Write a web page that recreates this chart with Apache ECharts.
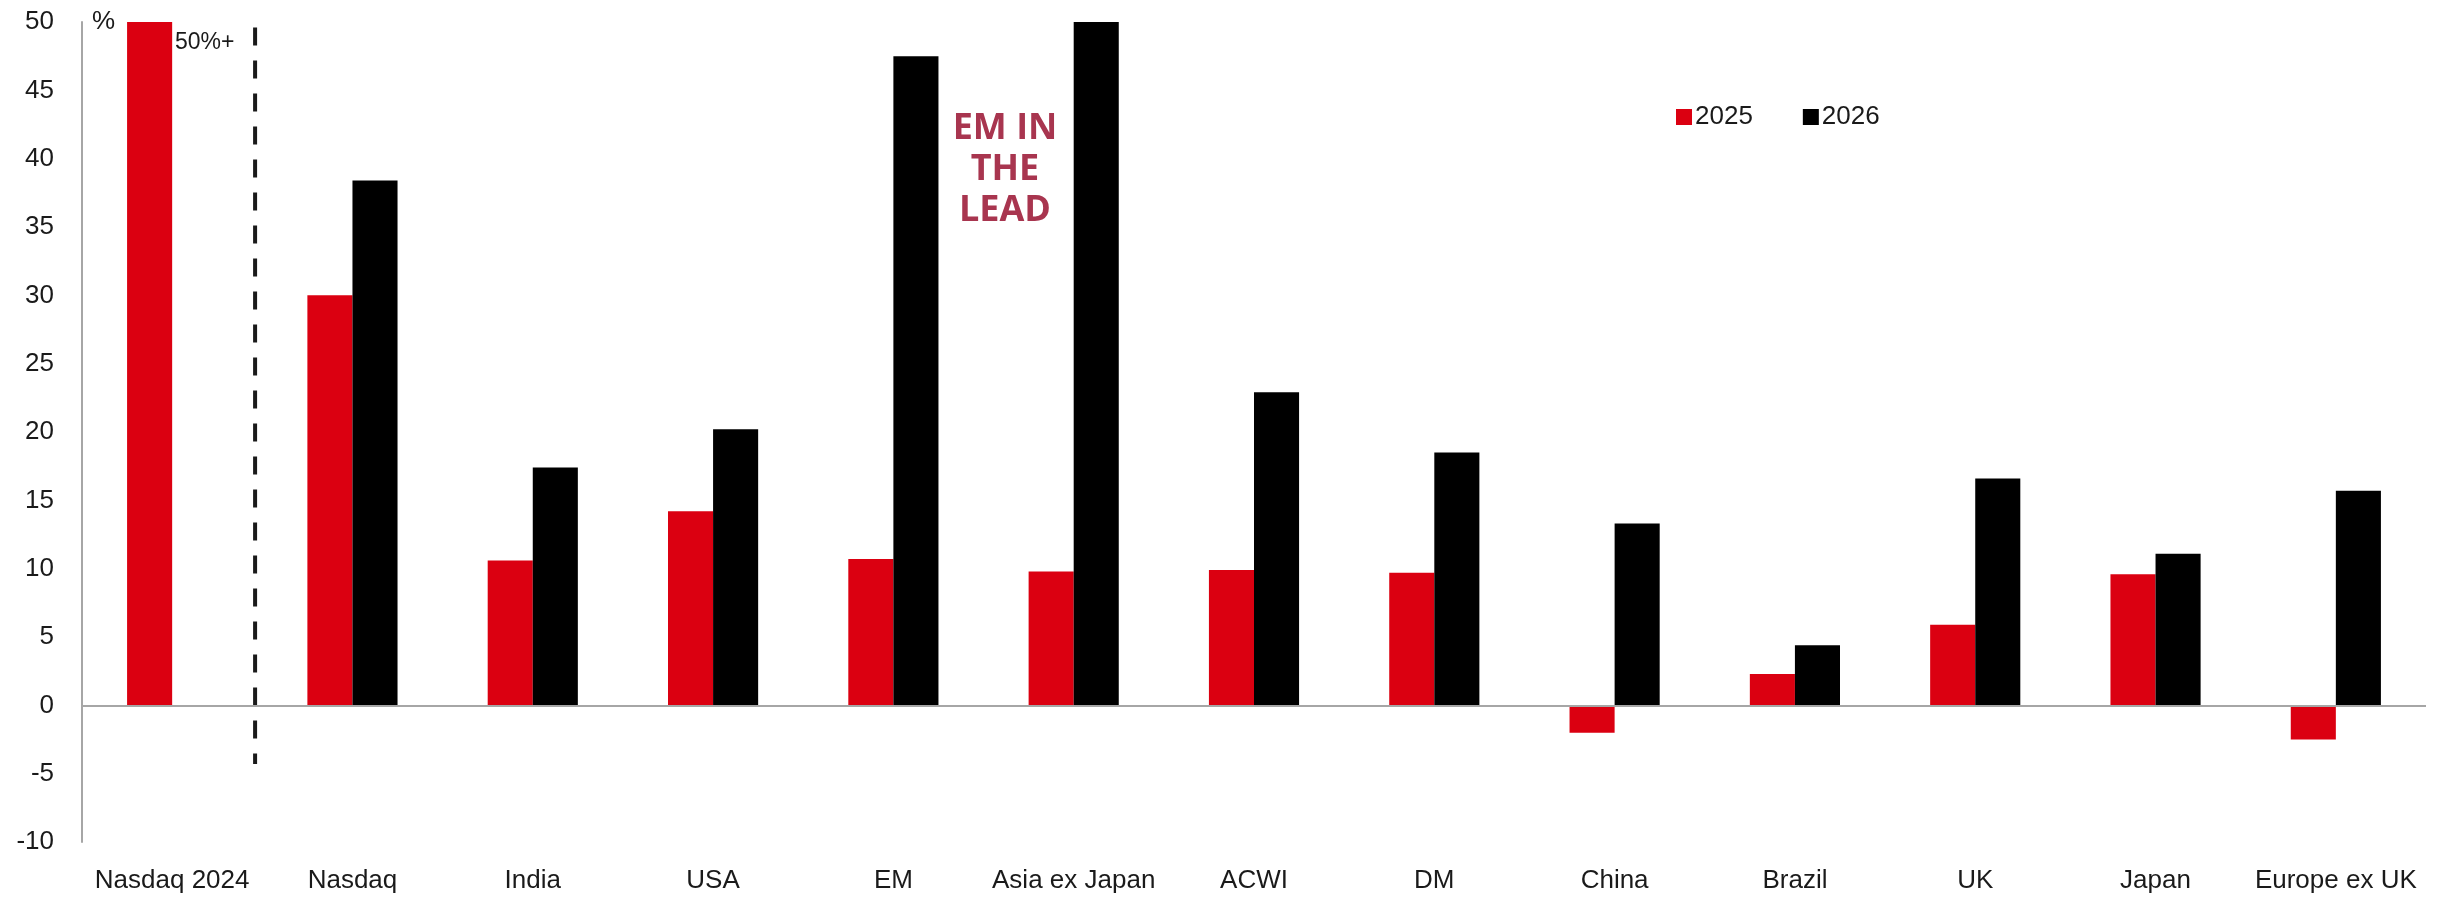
<!DOCTYPE html>
<html>
<head>
<meta charset="utf-8">
<script src="https://cdn.jsdelivr.net/npm/echarts@6/dist/echarts.min.js"></script>
<style>
html,body{margin:0;padding:0;background:#fff;}
#chart{width:2443px;height:897px;}
</style>
</head>
<body>
<div id="chart"></div>
<script>
const categories = ['Nasdaq 2024','Nasdaq','India','USA','EM','Asia ex Japan','ACWI','DM','China','Brazil','UK','Japan','Europe ex UK'];
const values2025 = [50, 30.0, 10.6, 14.2, 10.7, 9.8, 9.9, 9.7, -2.0, 2.3, 5.9, 9.6, -2.5];
const values2026 = [null, 38.4, 17.4, 20.2, 47.5, 50.0, 22.9, 18.5, 13.3, 4.4, 16.6, 11.1, 15.7];
const yTicks = { min: -10, max: 50, interval: 5 };

const FONT = '"Liberation Sans", Arial, sans-serif';
const TXT = '#1a1a1a';

const chart = echarts.init(document.getElementById('chart'));
const option = {
  animation: false,
  backgroundColor: '#ffffff',
  grid: { left: 82, right: 17, top: 22, bottom: 55, containLabel: false },
  legend: {
    left: 1671, top: 99,
    itemWidth: 16, itemHeight: 16, itemGap: 50,
    icon: 'rect',
    textStyle: { fontFamily: FONT, fontSize: 26, color: TXT, padding: [0,0,0,-2] },
    data: ['2025','2026']
  },
  xAxis: {
    type: 'category',
    data: categories,
    axisLine: { show: false, onZero: false },
    axisTick: { show: false },
    axisLabel: { fontFamily: FONT, fontSize: 26, color: TXT, margin: 26, interval: 0 }
  },
  yAxis: {
    type: 'value',
    min: yTicks.min, max: yTicks.max, interval: yTicks.interval,
    splitLine: { show: false },
    axisLine: { show: true, lineStyle: { color: '#a6a6a6', width: 2 } },
    axisTick: { show: false },
    axisLabel: { fontFamily: FONT, fontSize: 26, color: TXT, margin: 28 }
  },
  series: [
    {
      name: '2025', type: 'bar', data: values2025,
      itemStyle: { color: '#DB0011' },
      barWidth: '25%', barGap: '0%',
      markLine: {
        silent: true, symbol: 'none',
        lineStyle: { color: '#a6a6a6', width: 2, type: 'solid' },
        label: { show: false },
        data: [{ yAxis: 0 }]
      }
    },
    {
      name: '2026', type: 'bar', data: values2026,
      itemStyle: { color: '#000000' },
      barWidth: '25%', barGap: '0%'
    }
  ]
};
chart.setOption(option);

// annotations
const dashTop = chart.convertToPixel({ yAxisIndex: 0 }, 49.6);
const dashBot = chart.convertToPixel({ yAxisIndex: 0 }, -4.3);
const c0 = chart.convertToPixel({ xAxisIndex: 0 }, categories[0]);
const c1 = chart.convertToPixel({ xAxisIndex: 0 }, categories[1]);
const dashX = c0 + (c1 - c0) * 0.46;
const y50 = chart.convertToPixel({ yAxisIndex: 0 }, 50);

chart.setOption({
  graphic: [
    {
      type: 'line', silent: true,
      shape: { x1: dashX, y1: dashTop, x2: dashX, y2: dashBot },
      style: { stroke: '#1a1a1a', lineWidth: 4, lineDash: [18, 15] }
    },
    {
      type: 'text', left: 92, top: 9,
      style: { text: '%', fontFamily: FONT, fontSize: 26, fill: TXT }
    },
    {
      type: 'text', left: 175, top: y50 + 9,
      style: { text: '50%+', fontFamily: FONT, fontSize: 23, fill: TXT }
    },
    {
      type: 'text', x: 1005, y: 170,
      style: {
        text: 'EM IN\nTHE\nLEAD',
        fontFamily: '"Open Sans", "DejaVu Sans", sans-serif',
        fontWeight: 'bold', fontSize: 36, lineHeight: 41,
        fill: '#A8354F', align: 'center', verticalAlign: 'middle'
      }
    }
  ]
});
</script>
</body>
</html>
